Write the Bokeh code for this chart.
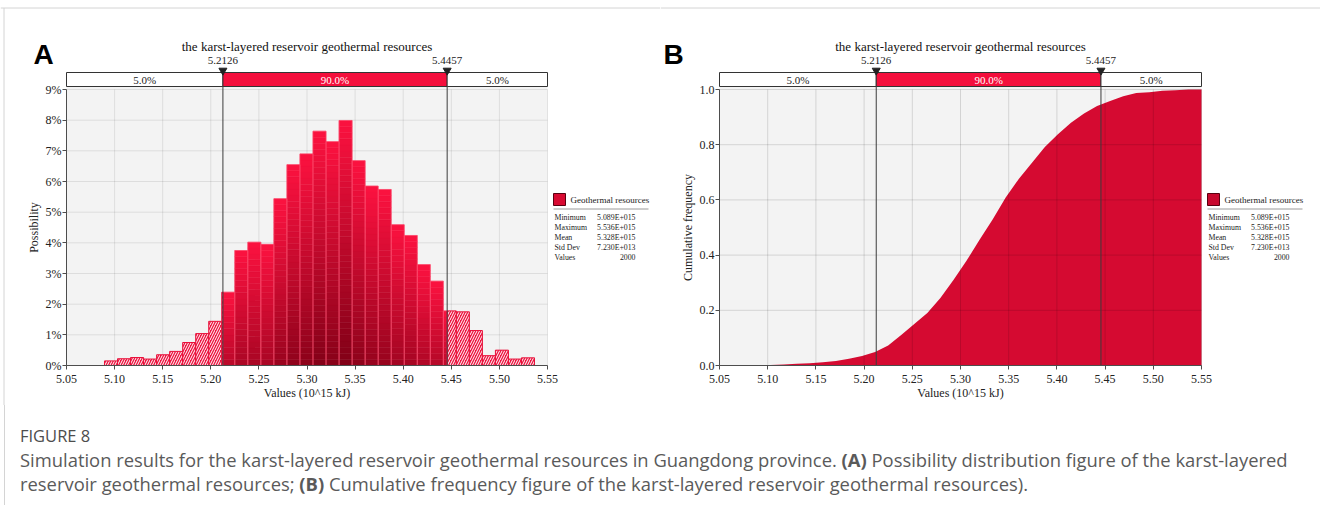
import math
import numpy as np
from bokeh.plotting import figure
from bokeh.models import (Range1d, FixedTicker, PrintfTickFormatter, NumeralTickFormatter,
                          LinearAxis, Div)
from bokeh.layouts import column, row
from bokeh.embed import file_html
from bokeh.resources import INLINE
from bokeh.core.properties import value

# ---------------- data ----------------
hist_min = 5.0895
hist_max = 5.5365
possibility = [0.15, 0.22, 0.26, 0.21, 0.35, 0.46, 0.75, 1.04, 1.44, 2.39,
               3.75, 4.02, 3.95, 5.44, 6.55, 6.90, 7.64, 7.30, 7.99, 6.68,
               5.85, 5.74, 4.59, 4.24, 3.29, 2.75, 1.78, 1.75, 1.14, 0.32,
               0.50, 0.21, 0.25]
delimiters = [5.2126, 5.4457]
delimiter_labels = ["5.2126", "5.4457"]
region_labels = ["5.0%", "90.0%", "5.0%"]
x_ticks = [5.05, 5.10, 5.15, 5.20, 5.25, 5.30, 5.35, 5.40, 5.45, 5.50, 5.55]
yA_ticks = [0, 1, 2, 3, 4, 5, 6, 7, 8, 9]
yB_ticks = [0.0, 0.2, 0.4, 0.6, 0.8, 1.0]
stat_names = ["Minimum", "Maximum", "Mean", "Std Dev", "Values"]
stat_values = ["5.089E+015", "5.536E+015", "5.328E+015", "7.230E+013", "2000"]
legend_name = "Geothermal resources"
chart_title = "the karst-layered reservoir geothermal resources"
x_label = "Values (10^15 kJ)"
caption_head = "FIGURE 8"
caption_1 = ("Simulation results for the karst-layered reservoir geothermal resources in Guangdong "
             "province. <b>(A)</b> Possibility distribution figure of the karst-layered")
caption_2 = ("reservoir geothermal resources; <b>(B)</b> Cumulative frequency figure of the "
             "karst-layered reservoir geothermal resources).")

# ---------------- styling / layout ----------------
SERIF = "Liberation Serif"
RED = "#f40f3c"
FILL_B = "#d50a31"
BOX = "#d4d4d4"
FIG_H = 405
Y0_PX = 365      # canvas y of value 0
YTOP_PX = 89     # canvas y of the top tick

edges = np.linspace(hist_min, hist_max, len(possibility) + 1)


def lerp_color(c1, c2, t):
    t = max(0.0, min(1.0, t))
    return "#%02x%02x%02x" % tuple(int(round(a + (b - a) * t)) for a, b in zip(c1, c2))


class Panel:
    def __init__(self, x0, width, xl, xr, ymax, yticks, yfmt, ylabel, letter, letter_px):
        self.x0, self.width, self.xl, self.ymax = x0, width, xl, ymax
        self.ppu = (xr - xl) / (x_ticks[-1] - x_ticks[0])
        self.ppy = (Y0_PX - YTOP_PX) / ymax
        xs = (x_ticks[0] - (xl - x0) / self.ppu, x_ticks[-1] + (x0 + width - xr) / self.ppu)
        ys = (self.Y(FIG_H), self.Y(0))
        p = figure(width=width, height=FIG_H, x_range=Range1d(*xs), y_range=Range1d(*ys),
                   x_axis_type=None, y_axis_type=None,
                   output_backend="svg", toolbar_location=None,
                   min_border=0, min_border_left=0, min_border_right=0,
                   min_border_top=0, min_border_bottom=0)
        p.xgrid.visible = False
        p.ygrid.visible = False
        p.outline_line_color = None
        p.background_fill_color = "white"
        p.border_fill_color = "white"
        self.p = p

        xa = LinearAxis(fixed_location=0, bounds=(x_ticks[0], x_ticks[-1]),
                        ticker=FixedTicker(ticks=x_ticks),
                        formatter=NumeralTickFormatter(format="0.00"), axis_label=x_label)
        ya = LinearAxis(fixed_location=x_ticks[0], bounds=(0, ymax),
                        ticker=FixedTicker(ticks=yticks), formatter=yfmt, axis_label=ylabel)
        for ax in (xa, ya):
            ax.axis_line_color = "#4d4d4d"
            ax.major_tick_line_color = "#4d4d4d"
            ax.major_tick_out = 4
            ax.major_tick_in = 0
            ax.minor_tick_line_color = None
            ax.major_label_text_font = SERIF
            ax.major_label_text_font_size = "12px"
            ax.major_label_text_color = "#222222"
            ax.axis_label_text_font = SERIF
            ax.axis_label_text_font_size = "12px"
            ax.axis_label_text_font_style = "normal"
            ax.axis_label_text_color = "#222222"
        xa.major_label_standoff = 5
        xa.axis_label_standoff = 0
        ya.major_label_standoff = 1
        ya.axis_label_standoff = 2
        self.xa, self.ya = xa, ya
        self.letter, self.letter_px = letter, letter_px

    def X(self, px):
        return x_ticks[0] + (px - self.xl) / self.ppu

    def Y(self, py):
        return (Y0_PX - py) / self.ppy

    def frame_box(self, left_line):
        p = self.p
        p.segment(x0=[self.X(self.x0)], y0=[self.Y(7.5)], x1=[self.X(self.x0 + self.width)],
                  y1=[self.Y(7.5)], line_color=BOX, line_width=1)
        if left_line:
            p.segment(x0=[self.X(3.5)], y0=[self.Y(7.5)], x1=[self.X(3.5)],
                      y1=[self.Y(FIG_H)], line_color=BOX, line_width=1)

    def background(self):
        self.p.quad(left=[x_ticks[0]], right=[x_ticks[-1]], bottom=[0], top=[self.Y(86)],
                    fill_color="#f3f3f3", line_color=None)

    def grid(self, yticks, alpha):
        p = self.p
        n, m = len(x_ticks), len(yticks)
        p.segment(x0=x_ticks, y0=[0] * n, x1=x_ticks, y1=[self.ymax] * n,
                  line_color="black", line_alpha=alpha, line_width=1)
        p.segment(x0=[x_ticks[0]] * m, y0=yticks, x1=[x_ticks[-1]] * m, y1=yticks,
                  line_color="black", line_alpha=alpha, line_width=1)

    def top(self):
        p = self.p
        bar_bot, bar_top = self.Y(86), self.Y(72)
        p.segment(x0=delimiters, y0=[0, 0], x1=delimiters, y1=[bar_bot, bar_bot],
                  line_color="#3c3c3c", line_width=1)
        lefts = [x_ticks[0]] + delimiters
        rights = delimiters + [x_ticks[-1]]
        p.quad(left=lefts, right=rights, bottom=[bar_bot] * 3, top=[bar_top] * 3,
               fill_color=["white", RED, "white"], line_color="#333333", line_width=1)
        mids = [(a + b) / 2 for a, b in zip(lefts, rights)]
        p.text(x=mids, y=[self.Y(79)] * 3, text=region_labels,
               text_color=["#222222", "white", "#222222"], text_font=value(SERIF),
               text_font_size="11px", text_align="center", text_baseline="middle")
        p.scatter(x=delimiters, y=[self.Y(70)] * 2, marker="inverted_triangle", size=8,
                  fill_color="#222222", line_color="#222222")
        p.text(x=delimiters, y=[self.Y(60)] * 2, text=delimiter_labels,
               text_color="#222222", text_font=value(SERIF), text_font_size="11px",
               text_align="center", text_baseline="middle")
        p.text(x=[(x_ticks[0] + x_ticks[-1]) / 2], y=[self.Y(46)], text=[chart_title],
               text_color="#111111", text_font=value(SERIF), text_font_size="13px",
               text_align="center", text_baseline="middle")
        p.text(x=[self.X(self.letter_px)], y=[self.Y(53.5)], text=[self.letter],
               text_color="black", text_font=value("Liberation Sans"),
               text_font_style="bold", text_font_size="28px",
               text_align="left", text_baseline="middle")

    def legend(self, swatch_color, sw_px):
        p = self.p
        p.quad(left=[self.X(sw_px)], right=[self.X(sw_px + 12)], bottom=[self.Y(205)],
               top=[self.Y(193)], fill_color=swatch_color, line_color="#5a0010", line_width=1)
        p.text(x=[self.X(sw_px + 17)], y=[self.Y(199)], text=[legend_name],
               text_font=value(SERIF), text_font_size="9px", text_color="#222222",
               text_baseline="middle", text_align="left")
        p.segment(x0=[self.X(sw_px)], y0=[self.Y(208.5)], x1=[self.X(sw_px + 95)],
                  y1=[self.Y(208.5)], line_color="#9a9a9a", line_width=1)
        k = len(stat_names)
        rows_y = [self.Y(216.5 + 10 * i) for i in range(k)]
        p.text(x=[self.X(sw_px + 1)] * k, y=rows_y, text=stat_names, text_font=value(SERIF),
               text_font_size="7.8px", text_color="#222222", text_baseline="middle",
               text_align="left")
        p.text(x=[self.X(sw_px + 82)] * k, y=rows_y, text=stat_values, text_font=value(SERIF),
               text_font_size="7.8px", text_color="#222222", text_baseline="middle",
               text_align="right")

    def axes(self):
        self.p.add_layout(self.xa, "below")
        self.p.add_layout(self.ya, "left")


# ---------------- panel A ----------------
A = Panel(0, 660, 66, 547, 9, yA_ticks, PrintfTickFormatter(format="%d%%"),
          "Possibility", "A", 33)
A.frame_box(True)
A.background()
A.grid(yA_ticks, 0.09)

hmax = max(possibility)
top_c = (252, 18, 64)
dark_c = (128, 0, 22)
sl, sr, sb, st, sc = [], [], [], [], []
ol, orr, ot = [], [], []
hl, hr, ht = [], [], []
d1, d2 = delimiters
for i, h in enumerate(possibility):
    l, r = edges[i], edges[i + 1]
    a, b = max(l, d1), min(r, d2)
    if b > a:
        n = max(1, int(math.ceil(h / 0.2)))
        s = 0.35 + 0.65 * h / hmax
        for k in range(n):
            y0, y1 = h * k / n, h * (k + 1) / n
            t = (1 - (y0 + y1) / 2 / h) * s
            sl.append(a); sr.append(b); sb.append(y0); st.append(y1)
            sc.append(lerp_color(top_c, dark_c, t))
        ol.append(a); orr.append(b); ot.append(h)
    if min(r, d1) > l:
        hl.append(l); hr.append(min(r, d1)); ht.append(h)
    if r > max(l, d2):
        hl.append(max(l, d2)); hr.append(r); ht.append(h)

A.p.quad(left=sl, right=sr, bottom=sb, top=st, fill_color=sc, line_color=sc, line_width=0.5)
A.p.quad(left=ol, right=orr, bottom=[0] * len(ol), top=ot, fill_color=None,
         line_color="#ff5577", line_alpha=0.55, line_width=1)
A.p.quad(left=hl, right=hr, bottom=[0] * len(hl), top=ht, fill_color="#ec1440",
         hatch_pattern="right_diagonal_line", hatch_color="white", hatch_weight=1.0,
         hatch_scale=5, line_color="#e8103a", line_width=1)
A.top()
A.legend("#d80a32", 553)
A.axes()

# ---------------- panel B ----------------
B = Panel(660, 660, 719, 1201, 1.0, yB_ticks, NumeralTickFormatter(format="0.0"),
          "Cumulative frequency", "B", 663)
B.frame_box(False)
B.background()
cum = [0.0] + list(np.cumsum(possibility) / sum(possibility))
xs = [x_ticks[0]] + list(edges) + [x_ticks[-1]]
ys = [0.0] + cum + [1.0]
B.p.varea(x=xs, y1=[0] * len(xs), y2=ys, fill_color=FILL_B)
B.grid(yB_ticks, 0.13)
B.top()
B.legend("#c8082e", 1207)
B.axes()

caption = Div(
    text=(
        '<div style="font-family:\'Open Sans\',sans-serif;color:#5a5a5a;padding-left:15px;'
        'margin-left:-1px;margin-top:-5px;padding-top:20px;height:100px;'
        'border-left:1px solid ' + BOX + ';width:1300px;">'
        '<div style="font-size:16.5px;line-height:22px;color:#4d4d4d;">'
        + caption_head + '</div>'
        '<div style="font-size:18.4px;line-height:24px;margin-top:1px;white-space:nowrap;">'
        + caption_1 + '<br>' + caption_2 + '</div></div>'
    ),
    width=1316, height=107)

layout = column(row(A.p, B.p), caption)
open("out.html", "w").write(file_html(layout, INLINE))
